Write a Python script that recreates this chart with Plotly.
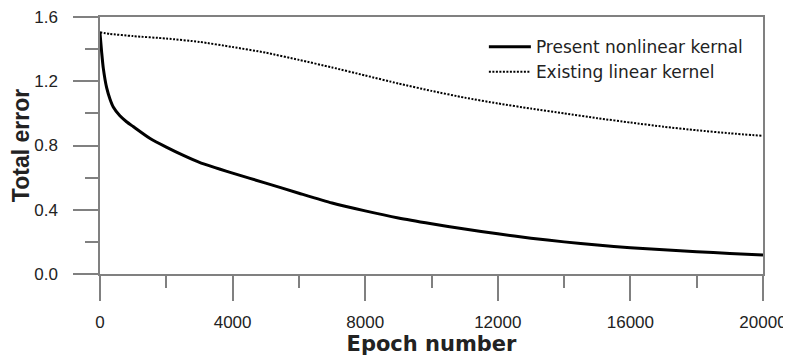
import plotly.graph_objects as go

epoch = [0, 50, 100, 200, 300, 400, 600, 800, 1000, 1500, 2000, 2500, 3000, 4000, 5000,
         6000, 7000, 8000, 9000, 10000, 11000, 12000, 13000, 14000, 15000, 16000, 17000,
         18000, 19000, 20000]
nonlinear = [1.50, 1.38, 1.28, 1.16, 1.09, 1.04, 0.985, 0.948, 0.918, 0.845, 0.79, 0.74,
             0.695, 0.628, 0.566, 0.503, 0.442, 0.393, 0.349, 0.313, 0.28, 0.25, 0.223,
             0.2, 0.18, 0.164, 0.151, 0.139, 0.128, 0.118]

epoch_linear = [0, 300, 1000, 2000, 3000, 4000, 5000, 6000, 7000, 8000, 9000, 10000,
                11000, 12000, 13000, 14000, 15000, 16000, 17000, 18000, 19000, 20000]
linear = [1.505, 1.495, 1.481, 1.466, 1.445, 1.413, 1.378, 1.333, 1.286, 1.236, 1.186,
          1.140, 1.098, 1.062, 1.03, 1.0, 0.97, 0.943, 0.917, 0.895, 0.876, 0.86]

x_ticks = [0, 4000, 8000, 12000, 16000, 20000]
y_ticks = [0.0, 0.4, 0.8, 1.2, 1.6]
y_tick_labels = ["0.0", "0.4", "0.8", "1.2", "1.6"]

axis_color = "#808080"
text_color = "#222222"

fig = go.Figure()
fig.add_trace(go.Scatter(x=epoch, y=nonlinear, mode="lines", name="Present nonlinear kernal",
                         line=dict(color="black", width=3, shape="spline", smoothing=0.6)))
fig.add_trace(go.Scatter(x=epoch_linear, y=linear, mode="lines", name="Existing linear kernel",
                         line=dict(color="black", width=2, dash="2px,1.5px", shape="spline",
                                   smoothing=0.6)))

# the page body has an 8px default margin, so the figure is sized to fit the window
fig.update_layout(
    width=783, height=348,
    margin=dict(l=92, r=28, t=9, b=82),
    plot_bgcolor="white", paper_bgcolor="white",
    showlegend=True,
    legend=dict(x=0.579, y=0.953, xanchor="left", yanchor="top",
                bgcolor="rgba(0,0,0,0)", itemwidth=42,
                font=dict(family="DejaVu Sans", size=17, color=text_color)),
    xaxis=dict(range=[0, 20000], tickvals=x_ticks, ticktext=[str(v) for v in x_ticks],
               ticks="outside", ticklen=25, tickwidth=1.5, tickcolor=axis_color,
               showline=True, linecolor=axis_color, linewidth=1.5, mirror=True,
               showgrid=False, zeroline=False, ticklabelstandoff=7, automargin=False,
               ticklabeloverflow="allow",
               tickfont=dict(family="Liberation Sans", size=17, color=text_color),
               minor=dict(dtick=2000, tick0=0, ticks="outside", ticklen=12, tickwidth=1.5,
                          tickcolor=axis_color, showgrid=False),
               title=dict(text="<b>Epoch number</b>", standoff=9,
                          font=dict(family="DejaVu Sans", size=21, color=text_color))),
    yaxis=dict(range=[0, 1.6], tickvals=y_ticks, ticktext=y_tick_labels,
               ticks="outside", ticklen=25, tickwidth=1.5, tickcolor=axis_color,
               showline=True, linecolor=axis_color, linewidth=1.5, mirror=True,
               showgrid=False, zeroline=False, ticklabelstandoff=12, automargin=False,
               ticklabeloverflow="allow",
               tickfont=dict(family="Liberation Sans", size=17, color=text_color),
               minor=dict(dtick=0.2, tick0=0, ticks="outside", ticklen=13, tickwidth=1.5,
                          tickcolor=axis_color, showgrid=False),
               title=dict(text="<b>Total error</b>", standoff=0,
                          font=dict(family="Liberation Sans", size=23, color=text_color))),
)

fig.write_html("out.html")
